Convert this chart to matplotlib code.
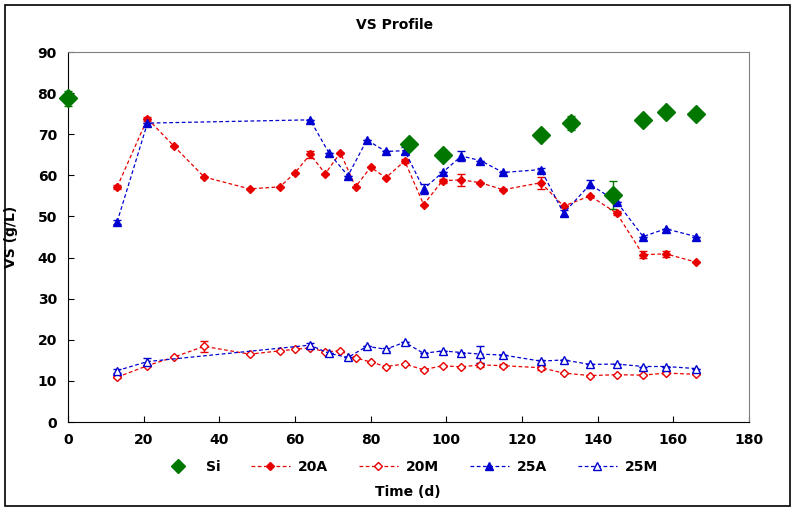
import numpy as np
import matplotlib.pyplot as plt
from matplotlib.patches import Rectangle

# data
si_t = [0, 90, 99, 125, 133, 144, 152, 158, 166]
si_v = [78.7, 67.6, 64.9, 69.8, 72.8, 55.2, 73.4, 75.3, 74.8]
si_e = [1.8, 0.8, 0, 0.5, 1.7, 3.4, 0, 0, 0]

a20_t = [13, 21, 28, 36, 48, 56, 60, 64, 68, 72, 76, 80, 84, 89, 94, 99, 104,
         109, 115, 125, 131, 138, 145, 152, 158, 166]
a20_v = [57.2, 73.8, 67.1, 59.6, 56.7, 57.2, 60.6, 65.1, 60.4, 65.5, 57.2, 62.0,
         59.4, 63.5, 52.9, 58.7, 58.9, 58.2, 56.5, 58.2, 52.5, 55.0, 50.8, 40.7,
         40.9, 38.9]
a20_e = [0.5, 0.5, 0, 0, 0, 0, 0, 0.8, 0, 0, 0, 0, 0, 0.5, 0, 0.5, 1.5, 0, 0,
         1.5, 0, 0, 0.5, 0.8, 0.8, 0]

m20_v = [10.9, 13.7, 15.8, 18.4, 16.5, 17.3, 17.7, 18.0, 17.1, 17.3, 15.6, 14.6,
         13.5, 14.1, 12.7, 13.7, 13.4, 13.9, 13.7, 13.2, 11.9, 11.3, 11.5, 11.4,
         11.9, 11.6]
m20_e = [0.3, 0, 0, 1.4, 0, 0, 0, 0, 0, 0, 0, 0, 0, 0, 0, 0, 0, 0.5, 0.3, 0.5,
         0, 0, 0, 0, 0.3, 0]

a25_t = [13, 21, 64, 69, 74, 79, 84, 89, 94, 99, 104, 109, 115, 125, 131, 138,
         145, 152, 158, 166]
a25_v = [48.7, 72.7, 73.5, 65.4, 59.9, 68.6, 65.8, 66.0, 56.7, 60.7, 64.7, 63.6,
         60.7, 61.4, 50.8, 57.8, 53.6, 45.1, 47.0, 45.1]
a25_e = [0.5, 0, 0, 0, 0, 0, 0, 0.8, 1.3, 0, 1.2, 0, 0, 0.5, 0.8, 1.0, 0, 0, 0, 0]

m25_v = [12.5, 14.7, 18.7, 16.7, 15.7, 18.4, 17.7, 19.4, 16.7, 17.3, 16.9, 16.5,
         16.3, 14.8, 15.1, 14.0, 14.1, 13.5, 13.5, 13.0]
m25_e = [0.5, 0.8, 0.5, 0, 0, 0, 0.4, 0, 0, 0, 0, 2.1, 0, 0.4, 0, 0, 0, 0, 0, 0]

red = '#E80000'
blue = '#0000D0'
green = '#007800'

plt.rcParams['font.family'] = ['DejaVu Sans']

fig = plt.figure(figsize=(7.96, 5.11), dpi=100)
ax = fig.add_axes([68/796, 89/511, 681/796, 370/511])

dash = (0, (3, 2))
series = [
    (si_t, si_v, si_e, dict(marker='D', ls='none', color=green, ms=9), 'Si'),
    (a20_t, a20_v, a20_e, dict(marker='D', ls=dash, color=red, ms=4, lw=0.9), '20A'),
    (a20_t, m20_v, m20_e, dict(marker='D', ls=dash, color=red, ms=4.5, lw=0.9,
                               mfc='white'), '20M'),
    (a25_t, a25_v, a25_e, dict(marker='^', ls=dash, color=blue, ms=6, lw=0.9), '25A'),
    (a25_t, m25_v, m25_e, dict(marker='^', ls=dash, color=blue, ms=5.5, lw=0.9,
                               mfc='white'), '25M'),
]
for t, v, e, kw, name in series:
    ax.errorbar(t, v, yerr=e, fmt='none', ecolor=kw['color'], capsize=3,
                elinewidth=1, clip_on=False)
    ax.plot(t, v, label=name, clip_on=False, zorder=5 if name == 'Si' else 3, **kw)

ax.set_xlim(0, 180)
ax.set_ylim(0, 90)
ax.set_xticks(np.arange(0, 181, 20))
ax.set_yticks(np.arange(0, 91, 10))
ax.tick_params(direction='in', length=4, labelsize=10, pad=8)
for lab in ax.get_xticklabels() + ax.get_yticklabels():
    lab.set_fontweight('bold')
ax.spines['top'].set_color('#808080')
ax.spines['right'].set_color('#808080')

fig.text(395/796, 1 - 25/511, 'VS Profile', ha='center', va='center',
         fontsize=10, fontweight='bold')
fig.text(408/796, 1 - 492/511, 'Time (d)', ha='center', va='center',
         fontsize=10, fontweight='bold')
ax.set_ylabel('VS (g/L)', fontsize=10, fontweight='bold', labelpad=14)

leg = ax.legend(loc='center', bbox_to_anchor=(0.5, (467 - 422) / -370), ncol=5,
                frameon=False, columnspacing=2.2, handlelength=2.8,
                handletextpad=0.6, prop={'weight': 'bold', 'size': 10})
leg.legend_handles[0].set_markersize(7)

fig.patches.append(Rectangle((5/796, 5/511), 785/796, 501/511, transform=fig.transFigure,
                             fill=False, edgecolor='black', lw=1.2))

fig.savefig('out.png', dpi=100)
